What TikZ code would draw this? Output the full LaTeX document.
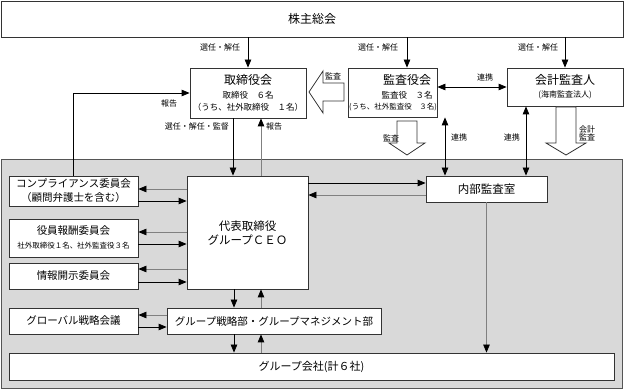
\documentclass[tikz,border=0pt]{standalone}
\usepackage{fontspec}
\setmainfont{Noto Sans CJK JP}
\usetikzlibrary{arrows.meta}

\tikzset{
  box/.style={draw=boxline, fill=white, line width=0.8pt, inner sep=0pt},
  txt/.style={inner sep=0pt, font=\fontsize{8}{9}\selectfont},
  big/.style={inner sep=0pt, font=\fontsize{12}{14}\selectfont},
  mid/.style={inner sep=0pt, font=\fontsize{10.5}{12}\selectfont},
  arr/.style={-{Triangle[length=8pt,width=6.5pt]}, line width=0.8pt, draw=black},
  back/.style={-{Triangle[length=8pt,width=6.5pt,color=black]}, line width=0.8pt, draw=linegray},
  both/.style={{Triangle[length=8pt,width=6.5pt]}-{Triangle[length=8pt,width=6.5pt]}, line width=0.8pt},
  blockarrow/.style={draw=boxline, fill=white, line width=0.8pt}
}

\begin{document}
\begin{tikzpicture}[x=1pt, y=-1pt]
    % --- Colores ---
    \definecolor{boxline}{HTML}{333333}  \definecolor{linegray}{HTML}{808080}
    \definecolor{areabg}{HTML}{D9D9D9}   \definecolor{arealine}{HTML}{555555}

    \useasboundingbox (0,0) rectangle (625,390);

    % --- Junta de accionistas ---
    \node[box, minimum width=622, minimum height=36] (kabunushi) at (312,19) {};
    \node[big] (kabunushi-t) at (312,19) {株主総会};

    % --- Consejo, auditores y auditor externo ---
    \node[box, minimum width=116, minimum height=50] (torishimari) at (248,93) {};
    \node[big] (torishimari-t) at (248,80) {取締役会};
    \node[txt, font=\fontsize{8.5}{9}\selectfont] (torishimari-a) at (248,95) {取締役　６名};
    \node[txt, font=\fontsize{8.5}{9}\selectfont] (torishimari-b) at (248,107) {（うち、社外取締役　１名）};

    \node[box, minimum width=89, minimum height=49] (kansayaku) at (392.5,92.5) {};
    \node[big] (kansayaku-t) at (407,80) {監査役会};
    \node[txt, font=\fontsize{8.5}{9}\selectfont] (kansayaku-a) at (407,95) {監査役　３名};
    \node[txt, font=\fontsize{7.5}{9}\selectfont] (kansayaku-b) at (393,107) {(うち、社外監査役　３名)};

    \node[box, minimum width=116, minimum height=38] (kaikei) at (565,87) {};
    \node[big] (kaikei-t) at (565,80) {会計監査人};
    \node[txt] (kaikei-a) at (565,95) {(海南監査法人)};

    % --- Zona gris: ejecucion del grupo ---
    \node[draw=arealine, fill=areabg, line width=0.8pt, minimum width=621, minimum height=229, inner sep=0pt] (group) at (311.5,273.5) {};

    \node[box, minimum width=129, minimum height=30] (comp) at (73.5,191) {};
    \node[mid] (comp-t) at (73.5,184) {コンプライアンス委員会};
    \node[mid] (comp-a) at (73.5,198) {（顧問弁護士を含む）};

    \node[box, minimum width=129, minimum height=38] (houshu) at (73.5,238) {};
    \node[mid] (houshu-t) at (73.5,231) {役員報酬委員会};
    \node[txt, font=\fontsize{7.5}{9}\selectfont] (houshu-a) at (73.5,246) {社外取締役１名、社外監査役３名};

    \node[box, minimum width=129, minimum height=26] (kaiji) at (73.5,276) {};
    \node[mid] (kaiji-t) at (73.5,276) {情報開示委員会};

    \node[box, minimum width=121, minimum height=113] (ceo) at (247.5,232.5) {};
    \node[inner sep=0pt, font=\fontsize{11.5}{13}\selectfont] (ceo-t) at (247.5,226) {代表取締役};
    \node[inner sep=0pt, font=\fontsize{11.5}{13}\selectfont] (ceo-a) at (247.5,240) {グループＣＥＯ};

    \node[box, minimum width=121, minimum height=26] (naibu) at (486.5,189) {};
    \node[inner sep=0pt, font=\fontsize{11.5}{13}\selectfont] (naibu-t) at (486.5,189) {内部監査室};

    \node[box, minimum width=129, minimum height=26] (global) at (73.5,321) {};
    \node[mid] (global-t) at (73.5,321) {グローバル戦略会議};

    \node[box, minimum width=214, minimum height=26] (senryaku) at (274,321) {};
    \node[mid] (senryaku-t) at (274,321) {グループ戦略部・グループマネジメント部};

    \node[box, minimum width=605, minimum height=27] (kaisha) at (311.5,366.5) {};
    \node[inner sep=0pt, font=\fontsize{11}{13}\selectfont] (kaisha-t) at (311.5,367) {グループ会社(計６社)};

    % --- Nombramientos desde la junta ---
    \draw[arr] (kabunushi.south -| torishimari.north) -- (torishimari.north);
    \draw[arr] (kabunushi.south -| 407,0) -- (kansayaku.north -| 407,0);
    \draw[arr] (kabunushi.south -| kaikei.north) -- (kaikei.north);
    \node[txt] (sennin1) at (220,47) {選任・解任};
    \node[txt] (sennin2) at (378,47) {選任・解任};
    \node[txt] (sennin3) at (538,47) {選任・解任};

    % --- Flecha ancha: auditoria hacia el consejo ---
    \draw[blockarrow] (309,92) -- (323,71) -- (323,83) -- (344,83) -- (344,101) -- (323,101) -- (323,113) -- cycle;
    \node[txt] (kansa1) at (333,76) {監査};

    % --- Flechas anchas hacia la zona gris ---
    \draw[blockarrow] (397,121) -- (417,121) -- (417,143) -- (425,143) -- (407,155) -- (389,143) -- (397,143) -- cycle;
    \node[txt] (kansa2) at (391,138) {監査};
    \draw[blockarrow] (556,107) -- (576,107) -- (576,143) -- (586,143) -- (566,155) -- (546,143) -- (556,143) -- cycle;
    \node[txt, align=center] (kansa3) at (587,133) {会計\\[-1pt]監査};

    % --- Coordinacion ---
    \draw[both] (kansayaku.east |- 0,87) -- (kaikei.west |- 0,87);
    \node[txt] (renkei1) at (485,77) {連携};
    \draw[both] (kansayaku.south -| 445,0) -- (naibu.north -| 445,0);
    \node[txt, anchor=west] (renkei2) at (451,137) {連携};
    \draw[both] (kaikei.south -| 526,0) -- (naibu.north -| 526,0);
    \node[txt, anchor=east] (renkei3) at (520,137) {連携};

    % --- Consejo <-> CEO ---
    \draw[arr] (torishimari.south -| 233,0) -- (ceo.north -| 233,0);
    \node[txt, anchor=east] (kantoku) at (229,126) {選任・解任・監督};
    \draw[back] (ceo.north -| 261,0) -- (torishimari.south -| 261,0);
    \node[txt, anchor=west] (houkoku2) at (266,126) {報告};
    \draw[arr] (comp.north) |- (torishimari.west);
    \node[txt] (houkoku1) at (169,103) {報告};

    % --- CEO <-> comites ---
    \draw[back] (ceo.west |- 0,189) -- (comp.east |- 0,189);
    \draw[arr] (comp.east |- 0,201) -- (ceo.west |- 0,201);
    \draw[back] (ceo.west |- 0,232) -- (houshu.east |- 0,232);
    \draw[arr] (houshu.east |- 0,244) -- (ceo.west |- 0,244);
    \draw[back] (ceo.west |- 0,269) -- (kaiji.east |- 0,269);
    \draw[arr] (kaiji.east |- 0,282) -- (ceo.west |- 0,282);

    % --- CEO <-> auditoria interna ---
    \draw[arr] (ceo.east |- 0,183) -- (naibu.west |- 0,183);
    \draw[back] (naibu.west |- 0,195) -- (ceo.east |- 0,195);

    % --- CEO -> estrategia -> empresas del grupo ---
    \draw[arr] (ceo.south -| 234,0) -- (senryaku.north -| 234,0);
    \draw[back] (senryaku.north -| 261,0) -- (ceo.south -| 261,0);
    \draw[back] (senryaku.west |- 0,315) -- (global.east |- 0,315);
    \draw[arr] (global.east |- 0,327) -- (senryaku.west |- 0,327);
    \draw[arr] (senryaku.south -| 234,0) -- (kaisha.north -| 234,0);
    \draw[back] (kaisha.north -| 261,0) -- (senryaku.south -| 261,0);
    \draw[back] (naibu.south) -- (kaisha.north -| naibu.south);
\end{tikzpicture}
\end{document}
